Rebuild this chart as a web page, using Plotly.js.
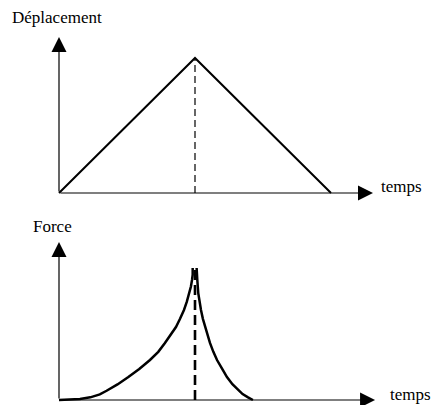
<!DOCTYPE html>
<html>
<head>
<meta charset="utf-8">
<script src="https://cdn.plot.ly/plotly-3.0.1.min.js"></script>
<style>
html,body{margin:0;padding:0;background:#fff;}
#chart{width:435px;height:405px;}
#chart .annotation-text{font-family:"Liberation Serif","DejaVu Serif","Times New Roman",serif !important;}
</style>
</head>
<body>
<div id="chart"></div>
<script>
// Top panel: displacement vs time (triangle)
const dispTime = [0, 1, 2];
const dispValue = [0, 1, 0];
// Bottom panel: force vs time (rising branch, falling branch)
const forceRiseTime = [0, 0.08, 0.154, 0.23, 0.3, 0.35, 0.43, 0.51, 0.59, 0.669, 0.73, 0.779, 0.82, 0.86, 0.89, 0.919, 0.94, 0.958, 0.97, 0.978, 0.983, 0.983];
const forceRiseValue = [0, 0.002, 0.008, 0.02, 0.042, 0.07, 0.118, 0.174, 0.235, 0.303, 0.365, 0.432, 0.49, 0.553, 0.615, 0.682, 0.745, 0.81, 0.86, 0.909, 0.95, 1.0];
const forceFallTime = [1.012, 1.012, 1.017, 1.024, 1.033, 1.044, 1.058, 1.074, 1.09, 1.11, 1.135, 1.162, 1.2, 1.235, 1.275, 1.316, 1.35, 1.39, 1.41, 1.426];
const forceFallValue = [1.0, 0.95, 0.909, 0.81, 0.74, 0.682, 0.615, 0.553, 0.49, 0.432, 0.365, 0.303, 0.235, 0.174, 0.12, 0.076, 0.045, 0.02, 0.008, 0];
// Peak markers (dashed verticals)
const peakTime = [1, 1];
const peakDisp = [0, 1];
const peakForce = [0, 1];
// Axis labels
const yLabelTop = "Déplacement";
const yLabelBottom = "Force";
const xLabel = "temps";

const font = "Liberation Serif";

const traces = [
  {x: dispTime, y: dispValue, xaxis: 'x', yaxis: 'y', mode: 'lines',
   line: {color: '#000', width: 2}, hoverinfo: 'skip'},
  {x: peakTime, y: peakDisp, xaxis: 'x', yaxis: 'y', mode: 'lines',
   line: {color: '#000', width: 1.2, dash: '7px,4px'}, hoverinfo: 'skip'},
  {x: forceRiseTime, y: forceRiseValue, xaxis: 'x2', yaxis: 'y2', mode: 'lines',
   line: {color: '#000', width: 2.5}, hoverinfo: 'skip'},
  {x: forceFallTime, y: forceFallValue, xaxis: 'x2', yaxis: 'y2', mode: 'lines',
   line: {color: '#000', width: 2.5}, hoverinfo: 'skip'},
  {x: peakTime, y: peakForce, xaxis: 'x2', yaxis: 'y2', mode: 'lines',
   line: {color: '#000', width: 2.6, dash: '10px,5px'}, hoverinfo: 'skip'}
];

const hidden = {visible: true, showgrid: false, zeroline: false, showline: false,
  showticklabels: false, ticks: '', fixedrange: true};

const xr = [-0.4338, 2.7647];
const layout = {
  width: 435, height: 405,
  margin: {l: 0, r: 0, t: 0, b: 0},
  paper_bgcolor: '#fff', plot_bgcolor: 'rgba(0,0,0,0)',
  showlegend: false,
  font: {family: font, size: 17, color: '#000'},
  xaxis: Object.assign({}, hidden, {domain: [0, 1], range: xr, anchor: 'y'}),
  yaxis: Object.assign({}, hidden, {domain: [0.4691, 1], range: [-0.163, 1.4296], anchor: 'x'}),
  xaxis2: Object.assign({}, hidden, {domain: [0, 1], range: xr, anchor: 'y2'}),
  yaxis2: Object.assign({}, hidden, {domain: [0, 0.4691], range: [-0.0379, 1.4015], anchor: 'x2'}),
  annotations: [
    // axis arrows
    {xref: 'x', yref: 'y', axref: 'x', ayref: 'y', x: 2.309, y: 0, ax: 0, ay: 0, text: '',
     showarrow: true, arrowhead: 2, arrowsize: 2.5, arrowwidth: 1.2, arrowcolor: '#000'},
    {xref: 'x', yref: 'y', axref: 'x', ayref: 'y', x: 0, y: 1.156, ax: 0, ay: 0, text: '',
     showarrow: true, arrowhead: 2, arrowsize: 2.5, arrowwidth: 1.2, arrowcolor: '#000'},
    {xref: 'x2', yref: 'y2', axref: 'x2', ayref: 'y2', x: 2.324, y: 0, ax: 0, ay: 0, text: '',
     showarrow: true, arrowhead: 2, arrowsize: 2.5, arrowwidth: 1.2, arrowcolor: '#000'},
    {xref: 'x2', yref: 'y2', axref: 'x2', ayref: 'y2', x: 0, y: 1.197, ax: 0, ay: 0, text: '',
     showarrow: true, arrowhead: 2, arrowsize: 2.5, arrowwidth: 1.2, arrowcolor: '#000'},
    // labels
    {xref: 'paper', yref: 'paper', x: 57/435, y: 1 - 18/405, text: yLabelTop, showarrow: false,
     xanchor: 'center', yanchor: 'middle', font: {family: font, size: 17}},
    {xref: 'paper', yref: 'paper', x: 401/435, y: 1 - 186/405, text: xLabel, showarrow: false,
     xanchor: 'center', yanchor: 'middle', font: {family: font, size: 17}},
    {xref: 'paper', yref: 'paper', x: 52/435, y: 1 - 226/405, text: yLabelBottom, showarrow: false,
     xanchor: 'center', yanchor: 'middle', font: {family: font, size: 17}},
    {xref: 'paper', yref: 'paper', x: 410/435, y: 1 - 394/405, text: xLabel, showarrow: false,
     xanchor: 'center', yanchor: 'middle', font: {family: font, size: 17}}
  ]
};

Plotly.newPlot('chart', traces, layout, {displayModeBar: false, staticPlot: true});
</script>
</body>
</html>
